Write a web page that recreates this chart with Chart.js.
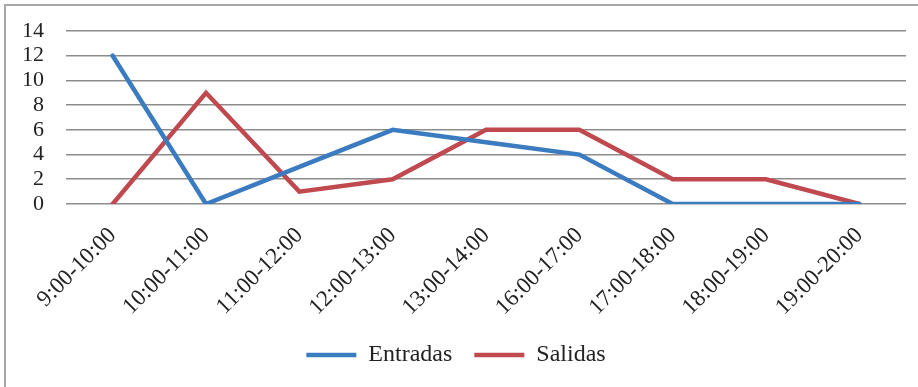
<!DOCTYPE html>
<html>
<head>
<meta charset="utf-8">
<script src="https://cdn.jsdelivr.net/npm/chart.js@4"></script>
<style>
  html, body { margin: 0; padding: 0; background: #fff; }
  #wrap { width: 918px; height: 387px; }
</style>
</head>
<body>
<div id="wrap"><canvas id="chart" width="918" height="387"></canvas></div>
<script>
// Hourly data
const horas = ["9:00-10:00", "10:00-11:00", "11:00-12:00", "12:00-13:00", "13:00-14:00",
               "16:00-17:00", "17:00-18:00", "18:00-19:00", "19:00-20:00"];
const entradas = [12, 0, 3, 6, 5, 4, 0, 0, 0];
const salidas = [0, 9, 1, 2, 6, 6, 2, 2, 0];
const yTicks = [0, 2, 4, 6, 8, 10, 12, 14];

const blue = "#3b7cc0";
const red = "#c0494f";
const serif = "'Liberation Serif', 'Times New Roman', serif";

Chart.defaults.font.family = serif;
Chart.defaults.color = "#222";

const ctx = document.getElementById("chart").getContext("2d");

new Chart(ctx, {
  type: "line",
  data: {
    labels: horas,
    datasets: [
      {
        label: "Entradas",
        data: entradas,
        borderColor: blue,
        backgroundColor: blue,
        borderWidth: 4.5,
        pointRadius: 0,
        borderCapStyle: "round",
        tension: 0,
      },
      {
        label: "Salidas",
        data: salidas,
        borderColor: red,
        backgroundColor: red,
        borderWidth: 4.5,
        pointRadius: 0,
        borderCapStyle: "round",
        tension: 0,
      },
    ],
  },
  options: {
    responsive: false,
    animation: false,
    layout: { padding: { top: 31, left: 6, right: 12, bottom: 10 } },
    plugins: {
      tooltip: { enabled: false },
      legend: {
        position: "bottom",
        labels: {
          usePointStyle: true,
          pointStyle: "line",
          pointStyleWidth: 50,
          padding: 22,
          font: { size: 24 },
          color: "#222",
        },
      },
    },
    scales: {
      x: {
        offset: true,
        grid: { display: false },
        border: { display: false },
        ticks: {
          minRotation: 45,
          maxRotation: 45,
          padding: 10,
          font: { size: 23 },
        },
        afterFit: (scale) => { scale.height = 117; },
      },
      y: {
        min: 0,
        max: 14,
        afterBuildTicks: (scale) => { scale.ticks = yTicks.map((v) => ({ value: v })); },
        grid: { color: "#8c8c8c", lineWidth: 1.6, drawTicks: false },
        border: { display: false },
        ticks: { padding: 22, autoSkip: false, font: { size: 22 } },
        afterFit: (scale) => {
          scale.width = 60;
          scale.paddingTop = 0;
          scale.paddingBottom = 0;
        },
      },
    },
  },
  plugins: [
    {
      id: "frame",
      beforeDraw: (chart) => {
        const c = chart.ctx;
        c.save();
        c.strokeStyle = "#a8a8a8";
        c.lineWidth = 2;
        c.beginPath();
        c.moveTo(5, chart.height);
        c.lineTo(5, 5);
        c.lineTo(chart.width, 5);
        c.stroke();
        c.restore();
      },
    },
  ],
});
</script>
</body>
</html>
